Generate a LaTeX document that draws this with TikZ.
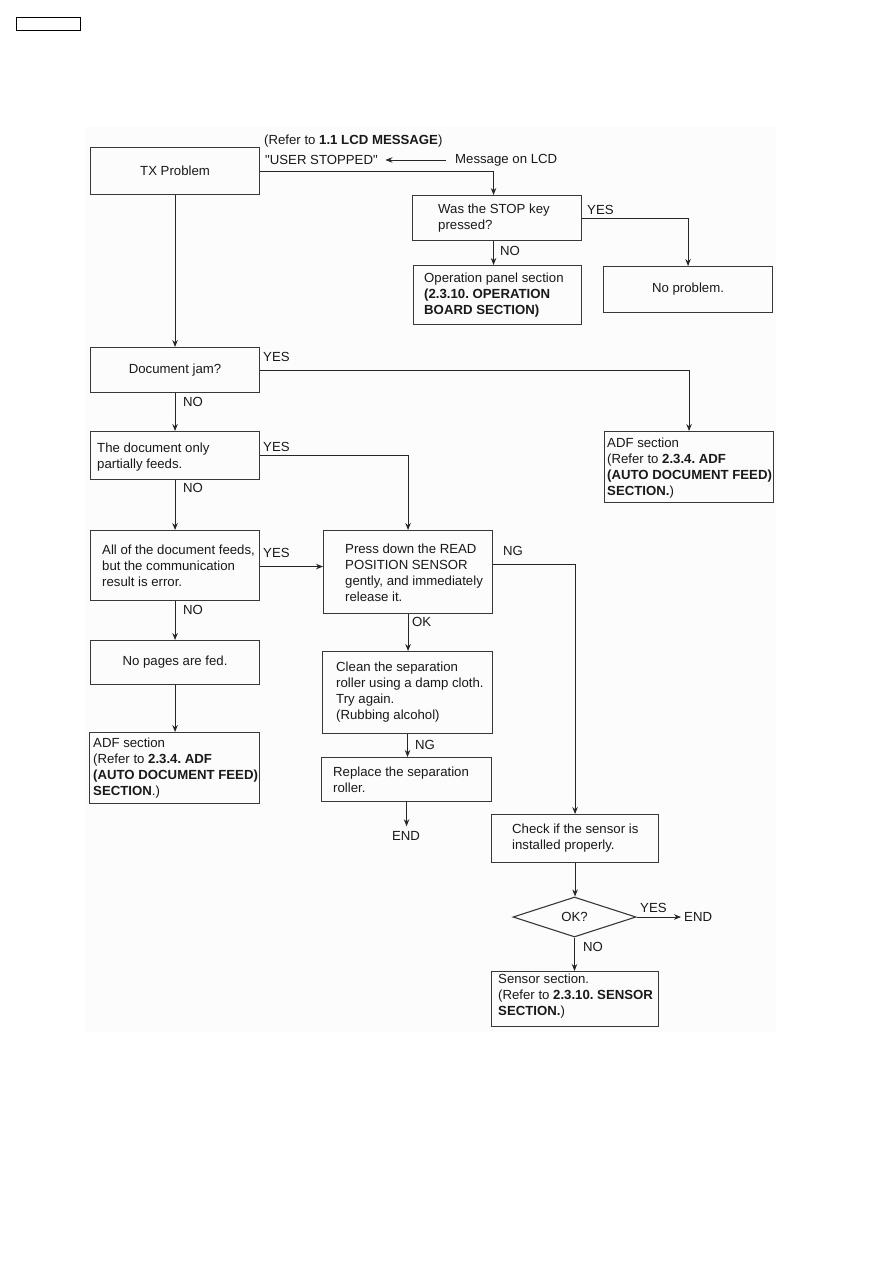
\documentclass[tikz,border=0pt]{standalone}
\usepackage{fontspec}
\setmainfont{Liberation Sans}[Ligatures=TeXOff]
\usetikzlibrary{shapes.geometric,arrows.meta}
\begin{document}
\frenchspacing
\begin{tikzpicture}[x=1pt,y=-1pt,
  every node/.style={font=\fontsize{13.2}{16}\selectfont, text=black!90},
  box/.style={draw=black!78, line width=1.1pt, inner sep=0pt, anchor=north west},
  txt/.style={inner sep=0pt, align=left, anchor=west},
  lbl/.style={inner sep=0pt, anchor=west},
  arr/.style={draw=black!85, line width=0.9pt, -{Stealth[length=7pt,width=5.5pt]}},
  ln/.style={draw=black!85, line width=0.9pt}]
\useasboundingbox (0,0) rectangle (893,1263);
\fill[white] (0,0) rectangle (893,1263);
\fill[black!1] (85,127) rectangle (776,1032);
\node[draw=black, line width=1.2pt, minimum width=64, minimum height=13, anchor=north west, inner sep=0pt] (hdr) at (16,17) {};

% top section
\node[box, minimum width=169, minimum height=47] (tx) at (90,147) {TX Problem};
\node[lbl] (ref) at (264,141) {(Refer to \textbf{1.1 LCD MESSAGE})};
\node[lbl] (usr) at (265,160) {"USER STOPPED"};
\node[lbl] (msg) at (455,160) {Message on LCD};
\draw[arr, shorten <=9pt, shorten >=7.5pt] (msg.west) -- (msg.west -| usr.east);

\node[box, minimum width=169, minimum height=45] (stop) at (412,195) {};
\node[txt] (stopt) at ([xshift=26pt]stop.west) {Was the STOP key\\pressed?};
\node[box, minimum width=168, minimum height=59] (op) at (413,265) {};
\node[txt] (opt) at ([xshift=11pt]op.west) {Operation panel section\\{\bfseries(2.3.10. OPERATION}\\{\bfseries BOARD SECTION)}};
\node[box, minimum width=169, minimum height=46] (noprob) at (603,266) {No problem.};

\draw[arr] (tx.east) -| ([xshift=-3.5pt]stop.north);
\draw[arr] ([xshift=-3.5pt]stop.south) coordinate (s1) -- (s1 |- op.north);
\node[lbl] (no1) at (500,251) {NO};
\draw[arr] (stop.east) -| (noprob.north);
\node[lbl] (yes1) at (587,210) {YES};

% left column
\node[box, minimum width=169, minimum height=45] (jam) at (90,347) {Document jam?};
\draw[arr] (tx.south) -- (tx.south |- jam.north);
\node[box, minimum width=169, minimum height=71] (adf1) at (604,431) {};
\node[txt] (adf1t) at ([xshift=3pt,yshift=-1pt]adf1.west) {ADF section\\(Refer to \textbf{2.3.4. ADF}\\{\bfseries (AUTO DOCUMENT FEED)}\\\textbf{SECTION.})};
\draw[arr] (jam.east) -| (adf1.north);
\node[lbl] (yes2) at (263,357) {YES};

\node[box, minimum width=169, minimum height=48] (part) at (90,431) {};
\node[txt] (partt) at ([xshift=7pt,yshift=-2pt]part.west) {The document only\\partially feeds.};
\draw[arr] (jam.south) -- (jam.south |- part.north);
\node[lbl] (no2) at (183,402) {NO};

\node[box, minimum width=169, minimum height=70] (all) at (90,530) {};
\node[txt] (allt) at ([xshift=12pt]all.west) {All of the document feeds,\\but the communication\\result is error.};
\draw[arr] (part.south) -- (part.south |- all.north);
\node[lbl] (no3) at (183,488) {NO};

\node[box, minimum width=169, minimum height=83] (press) at (323,530) {};
\node[txt] (presst) at ([xshift=22pt,yshift=-1pt]press.west) {Press down the READ\\POSITION SENSOR\\gently, and immediately\\release it.};
\draw[arr] (part.east) -| (press.north);
\node[lbl] (yes3) at (263,447) {YES};
\draw[arr] ([yshift=-1pt]all.east) coordinate (ya) -- (ya -| press.west);
\node[lbl] (yes4) at (263,553) {YES};

\node[box, minimum width=169, minimum height=44] (nop) at (90,640) {No pages are fed.};
\draw[arr] (all.south) -- (all.south |- nop.north);
\node[lbl] (no4) at (183,610) {NO};

\node[box, minimum width=170, minimum height=71] (adf2) at (89,732) {};
\node[txt] (adf2t) at ([xshift=4pt]adf2.west) {ADF section\\(Refer to \textbf{2.3.4. ADF}\\{\bfseries (AUTO DOCUMENT FEED)}\\\textbf{SECTION}.)};
\draw[arr] (nop.south) -- (nop.south |- adf2.north);

% middle column
\node[box, minimum width=170, minimum height=82] (clean) at (322,651) {};
\node[txt] (cleant) at ([xshift=14pt]clean.west) {Clean the separation\\roller using a damp cloth.\\Try again.\\(Rubbing alcohol)};
\draw[arr] (press.south) -- (press.south |- clean.north);
\node[lbl] (ok1) at (412,622) {OK};

\node[box, minimum width=170, minimum height=44] (repl) at (321,757) {};
\node[txt] (replt) at ([xshift=12pt]repl.west) {Replace the separation\\roller.};
\draw[arr] (clean.south) -- (clean.south |- repl.north);
\node[lbl] (ng2) at (415,745) {NG};

\node[inner sep=0pt] (end1) at (406,836) {END};
\draw[arr, shorten >=5pt] (repl.south) -- (repl.south |- end1.north);

% right column
\node[box, minimum width=167, minimum height=48] (check) at (491,814) {};
\node[txt] (checkt) at ([xshift=21pt]check.west) {Check if the sensor is\\installed properly.};
\draw[arr] ([yshift=7.5pt]press.east) -| (check.north);
\node[lbl] (ng1) at (503,551) {NG};

\node[draw=black!78, line width=1.1pt, diamond, aspect=3, minimum width=123, minimum height=40, inner sep=0pt] (okq) at (574.5,917) {OK?};
\draw[arr] (check.south) -- (check.south |- okq.north);
\node[lbl] (end2) at (684,917) {END};
\draw[arr, shorten >=3pt] (okq.east) -- (end2.west);
\node[lbl] (yes5) at (640,908) {YES};

\node[box, minimum width=167, minimum height=55] (sens) at (491,971) {};
\node[txt] (senst) at ([xshift=7pt,yshift=3pt]sens.west) {Sensor section.\\(Refer to \textbf{2.3.10. SENSOR}\\\textbf{SECTION.})};
\draw[arr] (okq.south) -- (okq.south |- sens.north);
\node[lbl] (no5) at (583,947) {NO};
\end{tikzpicture}
\end{document}
